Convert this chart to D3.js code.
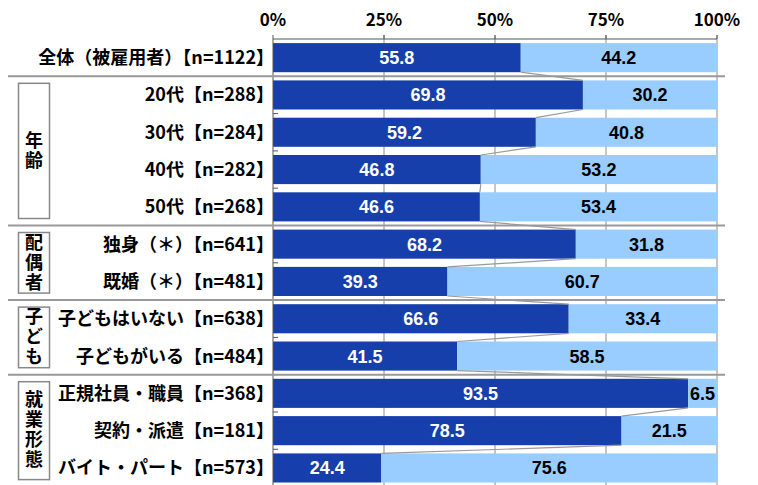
<!DOCTYPE html>
<html lang="ja">
<head>
<meta charset="utf-8">
<script src="https://cdn.jsdelivr.net/npm/d3@7"></script>
<style>
  body { margin: 0; background: #fff; }
  text { font-family: "Noto Sans CJK JP", "Noto Sans", sans-serif; }
  .val { font-family: "Liberation Sans", Arial, sans-serif; font-size: 18px; font-weight: bold; }
</style>
</head>
<body>
<script>
var categories = ["全体（被雇用者）【n=1122】", "20代【n=288】", "30代【n=284】", "40代【n=282】", "50代【n=268】",
  "独身（＊）【n=641】", "既婚（＊）【n=481】", "子どもはいない【n=638】", "子どもがいる【n=484】",
  "正規社員・職員【n=368】", "契約・派遣【n=181】", "バイト・パート【n=573】"];
var yesValues = [55.8, 69.8, 59.2, 46.8, 46.6, 68.2, 39.3, 66.6, 41.5, 93.5, 78.5, 24.4];
var noValues  = [44.2, 30.2, 40.8, 53.2, 53.4, 31.8, 60.7, 33.4, 58.5, 6.5, 21.5, 75.6];
var tickValues = [0, 25, 50, 75, 100];
var groupNames = ["年齢", "配偶者", "子ども", "就業形態"];
var groupStart = [1, 5, 7, 9];
var groupEnd   = [4, 6, 8, 11];

var width = 758, height = 485;
var margin = {top: 39, left: 273, right: 41};

var svg = d3.select("body").append("svg")
    .attr("width", width)
    .attr("height", height);

var x = d3.scaleLinear()
    .domain([0, 100])
    .range([margin.left, width - margin.right]);

var y = d3.scaleBand()
    .domain(d3.range(categories.length))
    .range([margin.top, margin.top + 37.3 * categories.length])
    .paddingInner(0.22)
    .paddingOuter(0.11);

var step = y.step(), bw = y.bandwidth();
function sepY(i) { return y(i) + bw + (step - bw) / 2; }

// grid
svg.selectAll(".grid")
    .data(tickValues.slice(1))
  .enter().append("line")
    .attr("x1", function(d) { return x(d); })
    .attr("x2", function(d) { return x(d); })
    .attr("y1", margin.top - 4)
    .attr("y2", height)
    .attr("stroke", "#8c8c8c")
    .attr("stroke-width", 1);

// top axis labels
svg.selectAll(".tick")
    .data(tickValues)
  .enter().append("text")
    .attr("x", function(d) { return x(d); })
    .attr("y", 26)
    .attr("text-anchor", "middle")
    .style("font-size", "17px")
    .style("font-weight", "bold")
    .text(function(d) { return d + "%"; });

// bars
var row = svg.selectAll(".row")
    .data(categories)
  .enter().append("g");

row.append("rect")
    .attr("x", x(0))
    .attr("y", function(d, i) { return y(i); })
    .attr("width", function(d, i) { return x(yesValues[i]) - x(0); })
    .attr("height", bw)
    .attr("fill", "#173fac");

row.append("rect")
    .attr("x", function(d, i) { return x(yesValues[i]); })
    .attr("y", function(d, i) { return y(i); })
    .attr("width", function(d, i) { return x(100) - x(yesValues[i]); })
    .attr("height", bw)
    .attr("fill", "#99ccff");

// connector lines
svg.selectAll(".conn")
    .data(d3.range(categories.length - 1))
  .enter().append("line")
    .attr("x1", function(i) { return x(yesValues[i]); })
    .attr("y1", function(i) { return y(i) + bw; })
    .attr("x2", function(i) { return x(yesValues[i + 1]); })
    .attr("y2", function(i) { return y(i + 1); })
    .attr("stroke", "#9a9a9a")
    .attr("stroke-width", 1.2);

// value labels
row.append("text")
    .attr("class", "val")
    .attr("x", function(d, i) { return (x(0) + x(yesValues[i])) / 2; })
    .attr("y", function(d, i) { return y(i) + bw / 2 + 6.5; })
    .attr("text-anchor", "middle")
    .attr("fill", "#fff")
    .text(function(d, i) { return yesValues[i].toFixed(1); });

row.append("text")
    .attr("class", "val")
    .attr("x", function(d, i) { return (x(yesValues[i]) + x(100)) / 2; })
    .attr("y", function(d, i) { return y(i) + bw / 2 + 6.5; })
    .attr("text-anchor", "middle")
    .attr("fill", "#000")
    .text(function(d, i) { return noValues[i].toFixed(1); });

// frame: top line and left axis
svg.append("line")
    .attr("x1", x(0)).attr("x2", x(100))
    .attr("y1", margin.top).attr("y2", margin.top)
    .attr("stroke", "#555");
svg.append("line")
    .attr("x1", x(0)).attr("x2", x(0))
    .attr("y1", margin.top).attr("y2", height)
    .attr("stroke", "#555");
svg.selectAll(".ytick")
    .data(d3.range(categories.length))
  .enter().append("line")
    .attr("x1", x(0)).attr("x2", x(0) + 5)
    .attr("y1", function(i) { return sepY(i); })
    .attr("y2", function(i) { return sepY(i); })
    .attr("stroke", "#555");
svg.selectAll(".ttick")
    .data(tickValues)
  .enter().append("line")
    .attr("x1", function(d) { return x(d); })
    .attr("x2", function(d) { return x(d); })
    .attr("y1", margin.top - 4).attr("y2", margin.top)
    .attr("stroke", "#555");

// category labels
row.append("text")
    .attr("x", 274)
    .attr("y", function(d, i) { return y(i) + bw / 2 + 6.5; })
    .attr("text-anchor", "end")
    .style("font-size", "18px")
    .style("font-weight", "bold")
    .text(function(d) { return d; });

// group separators
var seps = groupStart.map(function(s) { return s - 1; });
svg.selectAll(".sep")
    .data(seps)
  .enter().append("line")
    .attr("x1", 8).attr("x2", 725)
    .attr("y1", function(i) { return sepY(i); })
    .attr("y2", function(i) { return sepY(i); })
    .attr("stroke", "#999")
    .attr("stroke-width", 2);

// group boxes
groupNames.forEach(function(name, g) {
  var top = sepY(groupStart[g] - 1) + 7;
  var bottom = Math.min(sepY(groupEnd[g]) - 7, height - 2);
  svg.append("rect")
      .attr("x", 18.5).attr("y", top)
      .attr("width", 31).attr("height", bottom - top)
      .attr("fill", "#fff")
      .attr("stroke", "#888")
      .attr("stroke-width", 1.5);
  svg.append("text")
      .attr("x", 34)
      .attr("y", (top + bottom) / 2)
      .attr("text-anchor", "middle")
      .style("writing-mode", "vertical-rl")
      .style("letter-spacing", "2px")
      .style("font-size", "18px")
      .style("font-weight", "bold")
      .text(name);
});
</script>
</body>
</html>
